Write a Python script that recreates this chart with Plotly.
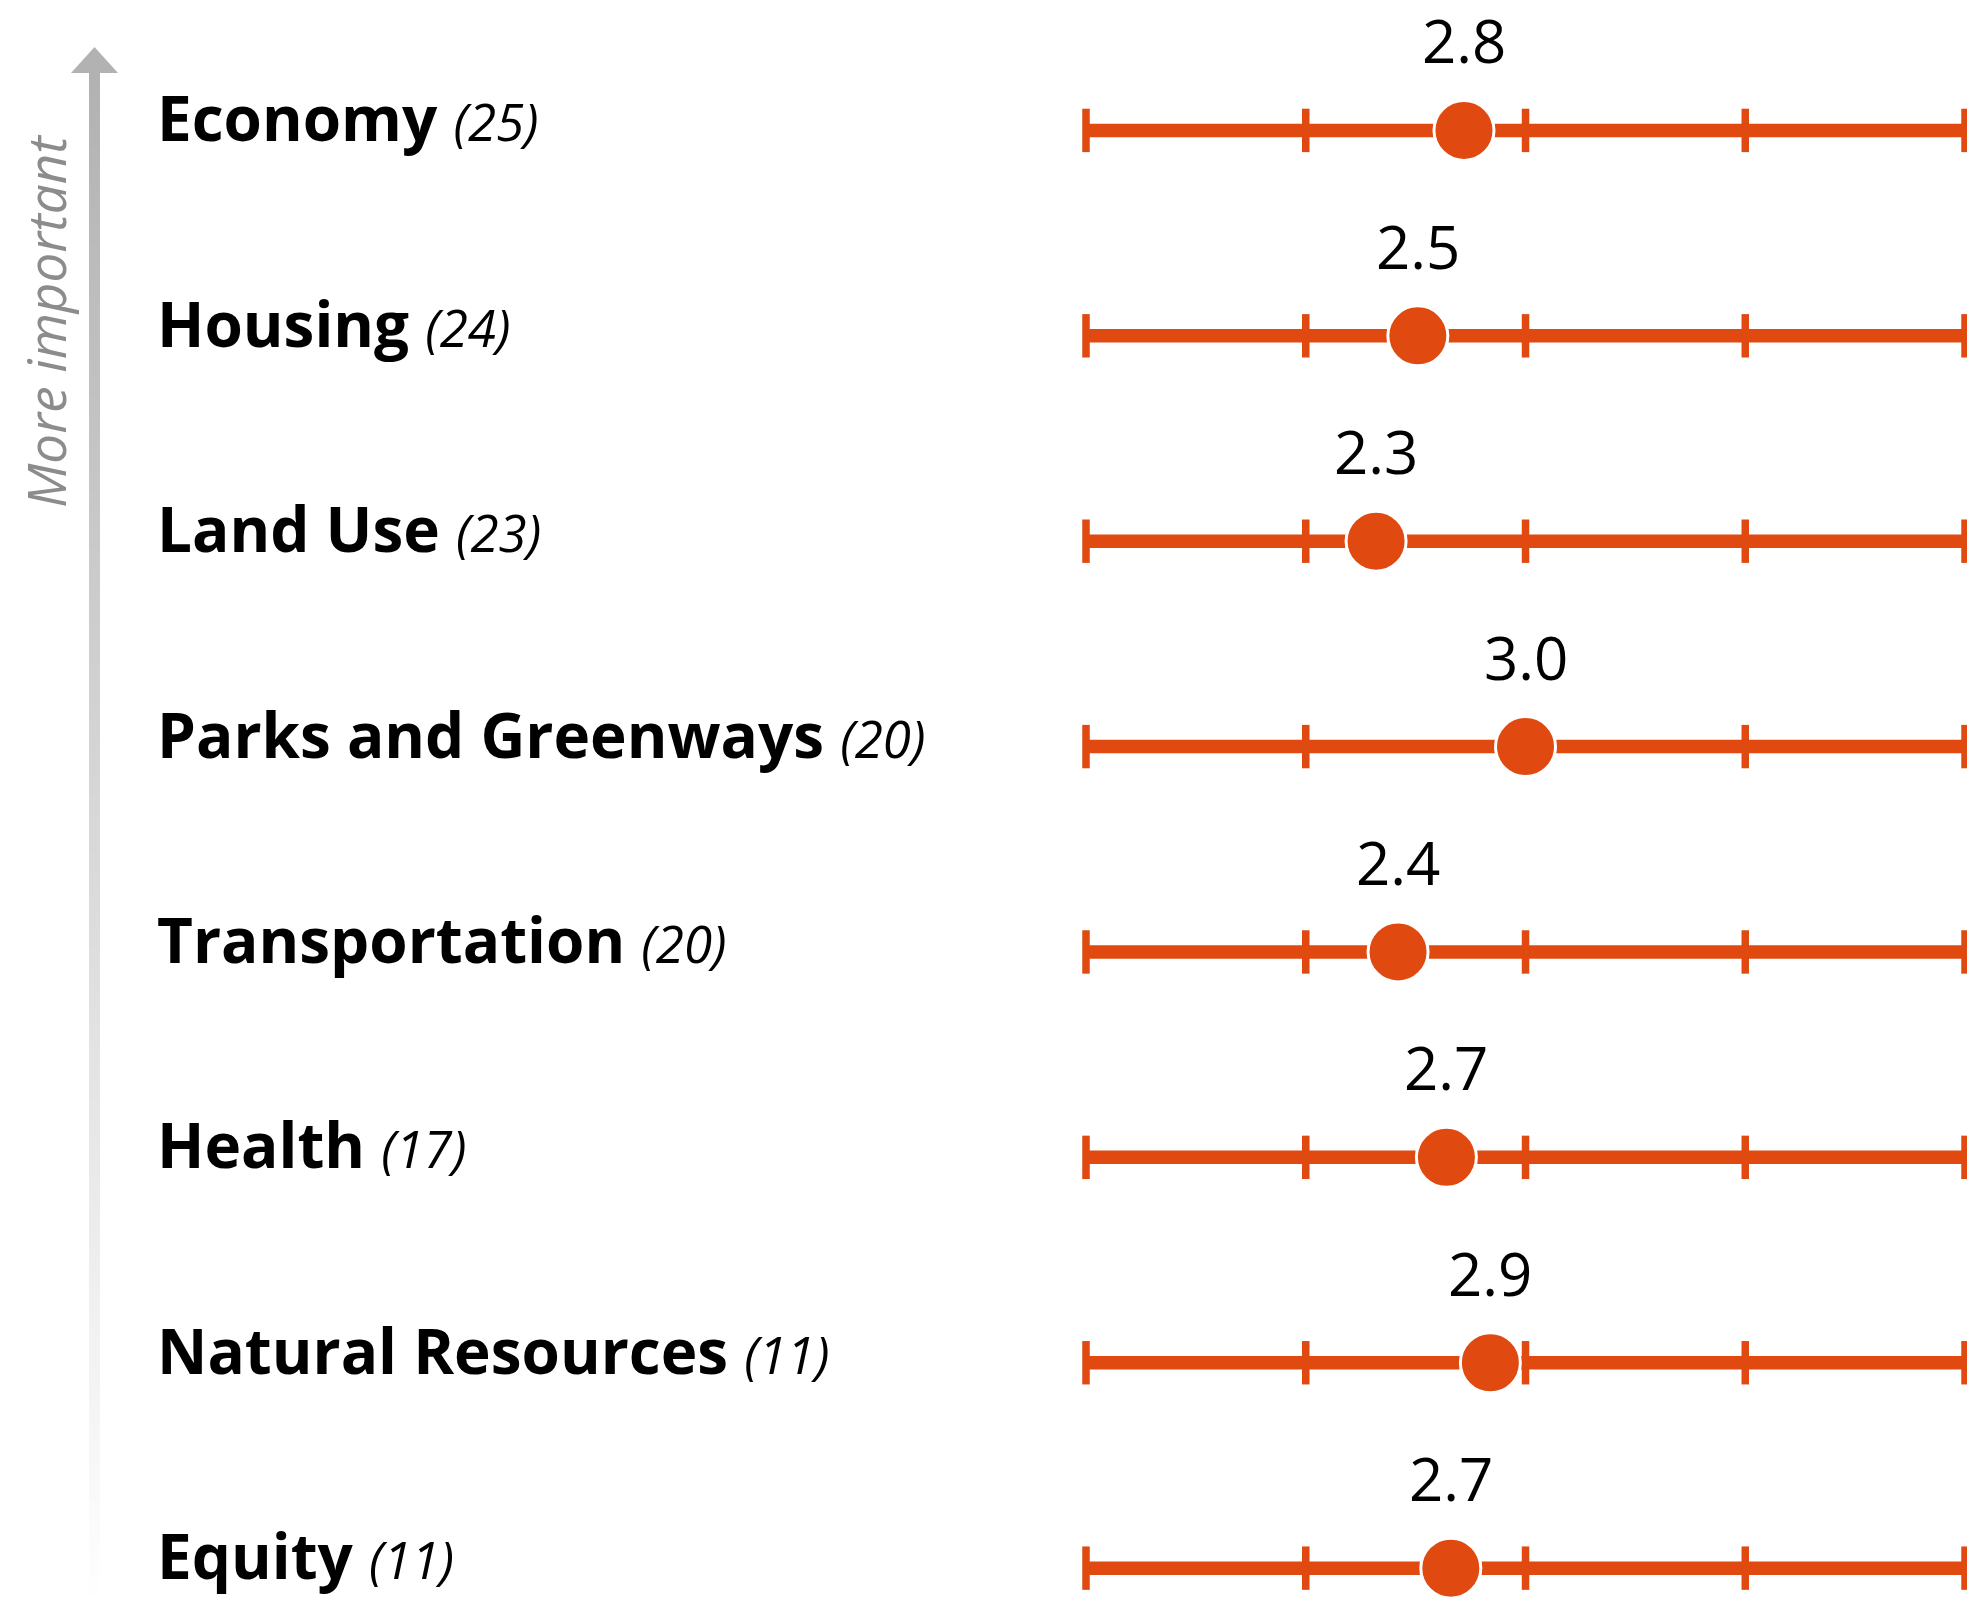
from plotly import graph_objects as go

W, H = 1967, 1601
ORANGE = "#e0490f"
FONT = "Open Sans"

categories = [
    "Economy",
    "Housing",
    "Land Use",
    "Parks and Greenways",
    "Transportation",
    "Health",
    "Natural Resources",
    "Equity",
]
counts = [25, 24, 23, 20, 20, 17, 11, 11]
# printed averages and where each dot sits on the 1-5 scale
score_labels = ["2.8", "2.5", "2.3", "3.0", "2.4", "2.7", "2.9", "2.7"]
scores = [2.72, 2.51, 2.32, 3.0, 2.42, 2.64, 2.84, 2.66]
scale_ticks = [1, 2, 3, 4, 5]


def px(x):
    return x / W


def py(y):
    return 1 - y / H


fig = go.Figure()

# horizontal scale lines, one per row
line_x, line_y = [], []
for cat in categories:
    line_x += [scale_ticks[0], scale_ticks[-1], None]
    line_y += [cat, cat, None]
fig.add_trace(
    go.Scatter(
        x=line_x,
        y=line_y,
        mode="lines",
        line={"color": ORANGE, "width": 13.5},
        hoverinfo="skip",
    )
)

# tick marks on each scale (line-ns length is 1.4 * size)
tick_x, tick_y = [], []
for cat in categories:
    tick_x += scale_ticks
    tick_y += [cat] * len(scale_ticks)
fig.add_trace(
    go.Scatter(
        x=tick_x,
        y=tick_y,
        mode="markers",
        marker={
            "symbol": "line-ns",
            "size": 31,
            "line": {"color": ORANGE, "width": 7.5},
        },
        hoverinfo="skip",
    )
)

# average score dots
fig.add_trace(
    go.Scatter(
        x=scores,
        y=categories,
        mode="markers",
        marker={
            "size": 60,
            "color": ORANGE,
            "line": {"color": "white", "width": 3},
        },
    )
)

annotations = []
for cat, n, s, lab in zip(categories, counts, scores, score_labels):
    annotations.append(
        dict(
            x=s,
            y=cat,
            xref="x",
            yref="y",
            text=lab,
            showarrow=False,
            xanchor="center",
            yanchor="middle",
            yshift=90,
            font={"family": FONT, "size": 60, "color": "black"},
        )
    )
    annotations.append(
        dict(
            x=px(155),
            y=cat,
            xref="paper",
            yref="y",
            text=f"<b>{cat}</b> <i><span style='font-size:51px'>({n})</span></i>",
            showarrow=False,
            xanchor="left",
            yanchor="middle",
            yshift=13,
            font={"family": FONT, "size": 62, "color": "black"},
        )
    )

annotations.append(
    dict(
        x=px(45),
        y=py(321),
        xref="paper",
        yref="paper",
        text="<i>More important</i>",
        textangle=-90,
        showarrow=False,
        xanchor="center",
        yanchor="middle",
        font={"family": FONT, "size": 53, "color": "#8c8c8c"},
    )
)

# fading arrow shaft and head
shapes = []
top, bottom, steps = 72, 1595, 80
for i in range(steps):
    y0 = top + (bottom - top) * i / steps
    y1 = top + (bottom - top) * (i + 1) / steps + 1
    g = int(178 + (255 - 178) * (i + 0.5) / steps)
    shapes.append(
        dict(
            type="rect",
            xref="paper",
            yref="paper",
            x0=px(89),
            x1=px(100),
            y0=py(y1),
            y1=py(y0),
            fillcolor=f"rgb({g},{g},{g})",
            line={"width": 0},
            layer="below",
        )
    )
shapes.append(
    dict(
        type="path",
        xref="paper",
        yref="paper",
        path=(
            f"M {px(71)} {py(73)} L {px(94.5)} {py(47)} "
            f"L {px(118)} {py(73)} Z"
        ),
        fillcolor="#b2b2b2",
        line={"width": 0},
        layer="below",
    )
)

fig.update_layout(
    width=W,
    height=H,
    margin={"l": 0, "r": 0, "t": 0, "b": 0},
    paper_bgcolor="white",
    plot_bgcolor="white",
    showlegend=False,
    xaxis={"range": [-3.942, 5.009], "visible": False},
    yaxis={
        "type": "category",
        "categoryorder": "array",
        "categoryarray": categories,
        "range": [7.16, -0.635],
        "visible": False,
    },
    annotations=annotations,
    shapes=shapes,
)

fig.write_html(
    "out.html",
    config={"displayModeBar": False},
    post_script="document.body.style.margin='0';document.body.style.overflow='hidden';",
)
